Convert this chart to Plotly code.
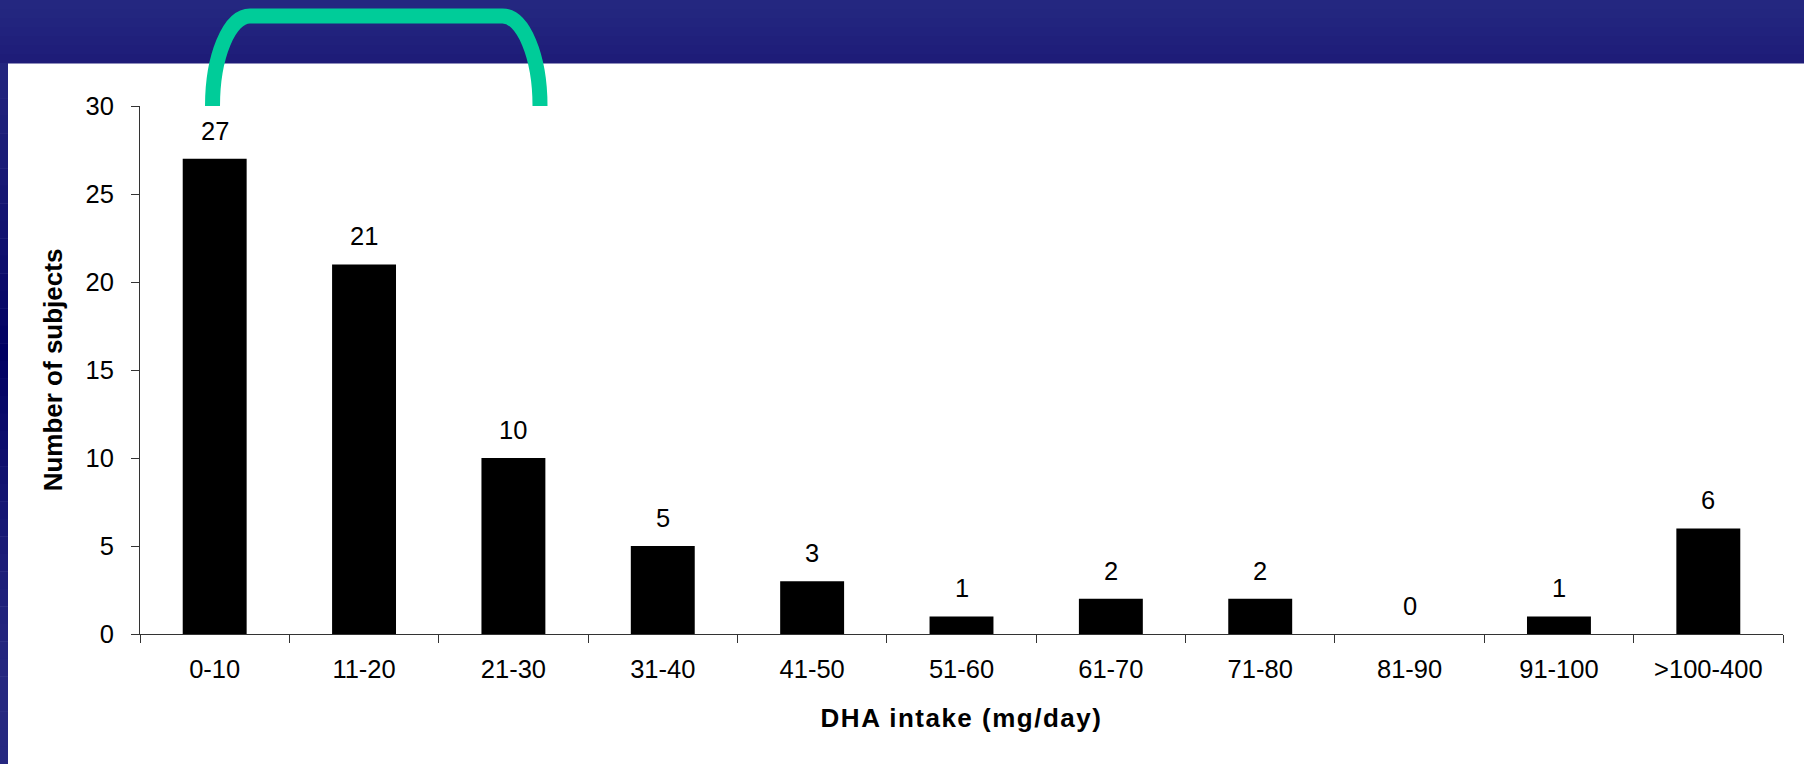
import plotly.graph_objects as go

# ---- data ----
categories = ["0-10", "11-20", "21-30", "31-40", "41-50", "51-60",
              "61-70", "71-80", "81-90", "91-100", ">100-400"]
subjects = [27, 21, 10, 5, 3, 1, 2, 2, 0, 1, 6]
y_ticks = [0, 5, 10, 15, 20, 25, 30]
x_title = "DHA intake (mg/day)"
y_title = "Number of subjects"

W, H = 1804, 764
L, R, T, B = 140, 21, 106, 130
PW, PH = W - L - R, H - T - B


def px(x):
    return (x - L) / PW


def py(y):
    return (H - B - y) / PH


FONT = "Liberation Sans, Arial, sans-serif"

fig = go.Figure()
fig.add_trace(go.Bar(
    x=categories, y=subjects,
    marker=dict(color="#000000", line=dict(width=0)),
    hoverinfo="x+y",
))

# value labels above bars
for c, v in zip(categories, subjects):
    fig.add_annotation(x=c, y=v, text=str(v), showarrow=False,
                       xref="x", yref="y", yanchor="middle", yshift=28,
                       font=dict(family=FONT, size=25.5, color="#000000"))

shapes = []
# top band with gentle vertical gradient
top_cols = ["#242780", "#23267f", "#22247e", "#21227d", "#20207b", "#1f1e7a", "#1e1c78"]
n = len(top_cols)
for i, col in enumerate(top_cols):
    y0 = 63 * i / n
    y1 = 63 * (i + 1) / n
    shapes.append(dict(type="rect", xref="paper", yref="paper",
                       x0=px(0), x1=px(W), y0=py(y1 + 0.5), y1=py(y0),
                       fillcolor=col, line=dict(width=0), layer="below"))


def lerp(c1, c2, t):
    return tuple(int(round(a + (b - a) * t)) for a, b in zip(c1, c2))


# left strip: lighter at ends, darkest in the middle
light = (0x26, 0x28, 0x80)
dark = (0x00, 0x00, 0x62)
steps = 40
for i in range(steps):
    ya = 63 + (H - 63) * i / steps
    yb = 63 + (H - 63) * (i + 1) / steps
    mid = (ya + yb) / 2
    t = 1 - abs(mid - 355) / 330
    t = max(0.0, min(1.0, t)) ** 1.3
    r, g, b = lerp(light, dark, t)
    shapes.append(dict(type="rect", xref="paper", yref="paper",
                       x0=px(0), x1=px(8), y0=py(yb + 0.5), y1=py(ya),
                       fillcolor=f"rgb({r},{g},{b})", line=dict(width=0), layer="below"))

# green bracket (quarter-ellipse corners)
k = 0.5523
xl, xr, ytop, ybot = 212.5, 540.0, 16.0, 106.0
rx, ry = 37.5, 90.0
pts = [("M", xl, ybot), ("C", xl, ybot - k * ry), ("", xl + rx - k * rx, ytop), ("", xl + rx, ytop),
       ("L", xr - rx, ytop), ("C", xr - rx + k * rx, ytop), ("", xr, ybot - k * ry), ("", xr, ybot)]
path = " ".join((f"{cmd} " if cmd else "") + f"{px(x):.5f},{py(y):.5f}" for cmd, x, y in pts)
shapes.append(dict(type="path", xref="paper", yref="paper", path=path,
                   line=dict(color="#00CC99", width=15), layer="above"))

fig.update_layout(
    width=W, height=H,
    margin=dict(l=L, r=R, t=T, b=B, autoexpand=False),
    paper_bgcolor="#FFFFFF", plot_bgcolor="#FFFFFF",
    showlegend=False,
    bargap=0.572,
    shapes=shapes,
    font=dict(family=FONT, color="#000000"),
    xaxis=dict(
        type="category", tickson="boundaries", ticks="outside", ticklen=8,
        tickwidth=1, tickcolor="#333333",
        showline=True, linecolor="#333333", linewidth=1,
        showgrid=False, zeroline=False,
        tickfont=dict(family=FONT, size=25.5, color="#000000"),
        ticklabelstandoff=12,
        title=dict(text=f"<b>{x_title}</b>", standoff=27,
                   font=dict(family=FONT, size=26, color="#000000")),
        automargin=False,
    ),
    yaxis=dict(
        range=[0, 30], tickvals=y_ticks, ticks="outside", ticklen=8,
        tickwidth=1, tickcolor="#333333",
        showline=True, linecolor="#333333", linewidth=1,
        showgrid=False, zeroline=False,
        tickfont=dict(family=FONT, size=25.5, color="#000000"),
        ticklabelstandoff=12,
        title=dict(text=f"<b>{y_title}</b>", standoff=15,
                   font=dict(family=FONT, size=26, color="#000000")),
        automargin=False,
    ),
)

post = """
document.body.style.margin = '0';
document.body.style.overflow = 'hidden';
var t = document.querySelectorAll('.g-xtitle text, text.xtitle');
t.forEach(function(e){ e.setAttribute('letter-spacing', '1.5px'); });
"""

fig.write_html("out.html", post_script=post, config={"displayModeBar": False})
